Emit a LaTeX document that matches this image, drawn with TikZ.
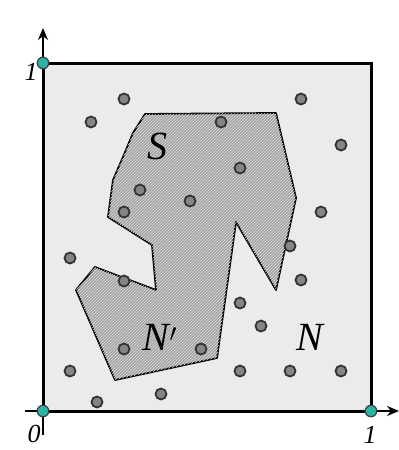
\documentclass[tikz,border=0pt]{standalone}
\usepackage{fontspec}
\setmainfont{Liberation Serif}
\usetikzlibrary{patterns,arrows.meta}
\definecolor{bgsq}{HTML}{EBEBEB}
\definecolor{hatchbase}{HTML}{A4A4A4}
\definecolor{hatchline}{HTML}{DCDCDC}
\definecolor{dotfill}{HTML}{858585}
\definecolor{tealdot}{HTML}{2BB3A6}
\begin{document}
\begin{tikzpicture}[x=1pt,y=-1pt,
  pt/.style={circle,draw=black!80,fill=dotfill,line width=1.8pt,minimum size=11pt,inner sep=0pt},
  corner/.style={circle,draw=black!75,fill=tealdot,line width=1.2pt,minimum size=11.5pt,inner sep=0pt},
  lbl/.style={font=\itshape\fontsize{40}{42}\selectfont,inner sep=0pt},
  ticklbl/.style={font=\itshape\fontsize{26}{28}\selectfont,inner sep=0pt},
  axis/.style={line width=2.2pt,-{Stealth[length=12pt,width=10pt]}}]
\useasboundingbox (0,0) rectangle (399,450);
\fill[white] (0,0) rectangle (399,450);
% unit square
\draw[line width=3pt,fill=bgsq] (43,63) rectangle (371,411);
% region S
\draw[line width=1.8pt,line join=round,fill=hatchbase,
  postaction={pattern=north east lines,pattern color=hatchline}]
  (145,114) -- (276,113) -- (296,198) -- (276,290) -- (236,222) -- (217,358)
  -- (115,380) -- (76,290) -- (95,267) -- (156,290) -- (152,245) -- (108,217)
  -- (113,180) -- (123,157) -- (133,133) -- cycle;
% axes
\coordinate (ybot) at (43,435);
\coordinate (ytop) at (43,28);
\coordinate (xleft) at (25,411);
\coordinate (xright) at (399,411);
\draw[axis] (ybot) -- (ytop);
\draw[axis] (xleft) -- (xright);
% points
\foreach \i/\x/\y in {1/124/99,2/91/122,3/221/122,4/301/99,5/341/145,6/240/168,
  7/140/190,8/190/201,9/124/212,10/321/212,11/290/246,12/70/258,13/124/281,
  14/301/280,15/240/303,16/261/326,17/124/349,18/201/349,19/70/371,20/240/371,
  21/290/371,22/341/371,23/97/402,24/161/394}
  \node[pt] (p\i) at (\x,\y) {};
% corner points
\node[corner] (o) at (43,411) {};
\node[corner] (c01) at (43,63) {};
\node[corner] (c10) at (371,411) {};
% labels
\node[ticklbl] (l1y) at (31,72) {1};
\node[ticklbl] (l0) at (34,434) {0};
\node[ticklbl] (l1x) at (370,435) {1};
\node[lbl] (ls) at (157,146) {S};
\node[lbl] (lnp) at (160,337) {N$'$};
\node[lbl] (ln) at (310,337) {N};
\end{tikzpicture}
\end{document}
